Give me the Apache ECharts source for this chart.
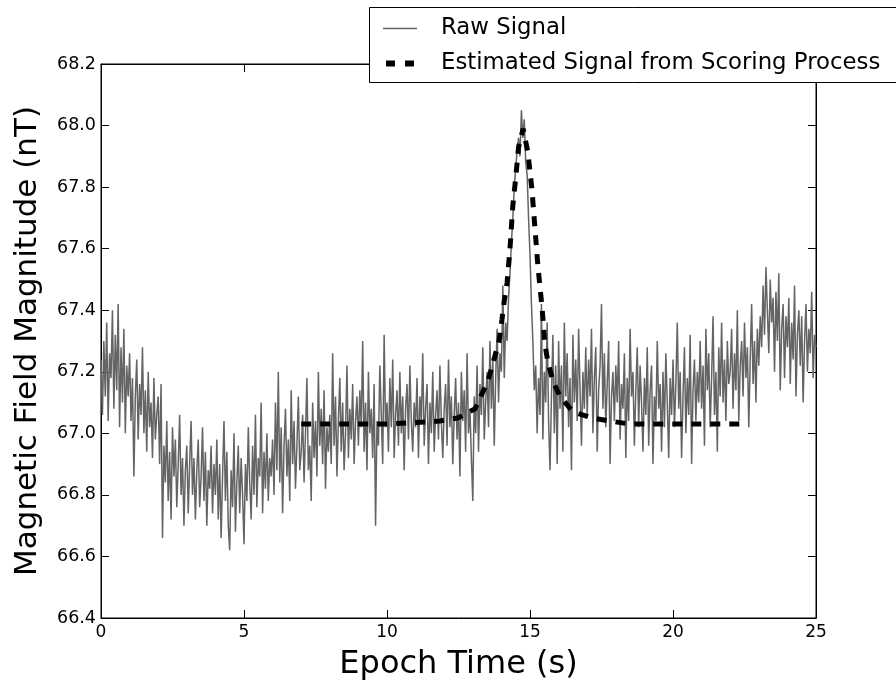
<!DOCTYPE html>
<html>
<head>
<meta charset="utf-8">
<script src="https://cdn.jsdelivr.net/npm/echarts@6/dist/echarts.min.js"></script>
<style>
  html, body { margin: 0; padding: 0; background: #fff; }
  #chart { width: 896px; height: 688px; }
</style>
</head>
<body>
<div id="chart"></div>
<script>
const rawStart = 0;
const rawStep = 0.05;
const rawSignal = [
  67.24, 67.06, 67.30, 67.12, 67.36, 67.04, 67.26, 67.18, 67.40, 67.08, 67.32, 67.14, 67.42, 67.02, 67.28, 67.10, 67.34, 67.00, 67.22, 67.12,
  67.26, 67.04, 67.18, 66.86, 67.12, 67.24, 66.98, 67.16, 67.06, 67.28, 67.00, 67.14, 66.94, 67.20, 67.02, 67.10, 66.92, 67.18, 66.98, 67.06,
  67.12, 66.90, 67.16, 66.66, 66.96, 66.84, 67.04, 66.78, 66.94, 66.72, 67.02, 66.86, 66.98, 66.76, 66.90, 67.06, 66.80, 66.92, 66.70, 66.88,
  66.96, 66.74, 66.90, 67.04, 66.80, 66.92, 66.72, 66.88, 66.98, 66.76, 66.86, 67.02, 66.78, 66.94, 66.70, 66.88, 66.82, 66.96, 66.74, 66.90,
  66.80, 66.98, 66.72, 66.90, 66.66, 66.86, 67.04, 66.78, 66.94, 66.70, 66.62, 66.88, 66.76, 67.00, 66.68, 66.84, 66.96, 66.74, 66.92, 66.80,
  66.64, 66.90, 66.78, 67.02, 66.84, 66.72, 66.96, 66.80, 67.06, 66.76, 66.92, 66.86, 67.10, 66.74, 66.94, 66.82, 67.00, 66.78, 66.92, 66.86,
  66.98, 66.80, 67.10, 66.88, 67.20, 66.84, 67.02, 66.74, 66.96, 67.08, 66.86, 66.98, 66.78, 67.14, 66.90, 67.04, 66.82, 66.96, 67.12, 66.88,
  66.94, 67.06, 66.84, 67.00, 67.18, 66.88, 66.96, 66.78, 67.10, 66.92, 67.04, 66.86, 67.20, 66.96, 67.08, 66.90, 67.14, 66.82, 67.02, 66.94,
  67.06, 66.90, 67.26, 66.96, 67.12, 66.86, 67.04, 67.18, 66.94, 67.10, 66.88, 67.00, 67.22, 66.92, 67.08, 66.98, 67.16, 66.90, 67.04, 67.12,
  66.96, 67.14, 67.02, 67.30, 66.94, 67.10, 66.88, 67.20, 67.00, 67.08, 66.92, 67.16, 66.70, 67.04, 66.96, 67.22, 67.06, 66.90, 67.32, 67.02,
  67.10, 66.94, 67.18, 67.02, 67.24, 66.92, 67.06, 67.14, 66.96, 67.20, 67.00, 67.12, 66.88, 67.08, 67.16, 66.98, 67.22, 67.04, 66.94, 67.10,
  67.02, 67.18, 66.92, 67.12, 67.04, 67.26, 66.96, 67.08, 67.16, 66.90, 67.10, 67.00, 67.20, 66.94, 67.06, 67.14, 66.98, 67.22, 67.04, 66.92,
  67.08, 67.16, 66.96, 67.24, 67.02, 67.12, 66.90, 67.06, 67.18, 66.98, 67.10, 66.86, 67.20, 67.04, 67.14, 66.94, 67.26, 67.00, 67.08, 66.92,
  66.78, 67.12, 67.00, 67.22, 66.94, 67.16, 67.06, 67.28, 66.98, 67.10, 67.20, 67.02, 67.30, 67.08, 67.24, 66.96, 67.18, 67.34, 67.10, 67.26,
  67.20, 67.48, 67.18, 67.36, 67.30, 67.44, 67.52, 67.62, 67.70, 67.80, 67.86, 67.92, 67.96, 67.90, 68.05, 67.96, 68.02, 67.88, 67.84, 67.70,
  67.58, 67.42, 67.30, 67.14, 67.22, 67.00, 67.18, 67.06, 67.42, 66.98, 67.20, 67.10, 67.36, 67.04, 66.88, 67.12, 67.32, 67.00, 67.22, 66.90,
  67.30, 67.08, 67.22, 66.94, 67.36, 67.12, 67.26, 67.02, 67.18, 66.88, 67.32, 67.10, 67.24, 67.04, 67.34, 67.14, 66.96, 67.20, 67.08, 67.28,
  67.06, 67.24, 67.12, 67.34, 67.00, 67.18, 67.28, 66.94, 67.14, 67.22, 67.42, 67.08, 67.26, 67.02, 67.16, 67.30, 66.90, 67.12, 67.20, 67.04,
  67.22, 67.10, 67.30, 66.98, 67.16, 67.08, 67.26, 66.92, 67.18, 67.04, 67.34, 67.12, 67.20, 66.96, 67.14, 67.28, 67.02, 67.22, 67.10, 66.94,
  67.18, 67.06, 67.28, 66.96, 67.14, 67.22, 66.90, 67.12, 67.04, 67.30, 67.08, 67.16, 66.94, 67.20, 67.02, 67.26, 67.10, 66.92, 67.18, 67.06,
  67.24, 67.02, 67.16, 67.36, 67.08, 67.20, 66.92, 67.12, 67.28, 67.00, 67.18, 67.06, 67.32, 66.90, 67.14, 67.24, 67.04, 67.20, 67.10, 67.30,
  67.08, 67.22, 66.96, 67.34, 67.14, 67.26, 67.02, 67.18, 67.38, 67.06, 67.20, 66.94, 67.28, 67.12, 67.36, 67.10, 67.24, 67.04, 67.30, 67.16,
  67.20, 67.34, 67.08, 67.26, 67.14, 67.40, 67.04, 67.22, 67.30, 67.12, 67.36, 67.18, 67.28, 67.02, 67.24, 67.42, 67.16, 67.30, 67.10, 67.34,
  67.22, 67.38, 67.28, 67.48, 67.32, 67.54, 67.40, 67.26, 67.50, 67.36, 67.44, 67.20, 67.46, 67.30, 67.52, 67.14, 67.34, 67.42, 67.18, 67.38,
  67.28, 67.44, 67.16, 67.36, 67.24, 67.48, 67.12, 67.32, 67.40, 67.22, 67.38, 67.10, 67.30, 67.42, 67.20, 67.34, 67.26, 67.46, 67.18, 67.32,
  67.28
];

// estimated signal from scoring process
const estTime = [7.0, 8.0, 9.0, 10.0, 11.0, 11.85, 12.48, 13.08, 13.53, 13.74, 13.92, 14.02,
  14.1, 14.2, 14.3, 14.4, 14.5, 14.6, 14.76, 14.93, 15.07, 15.17, 15.28, 15.42, 15.52,
  15.63, 15.8, 16.05, 16.5, 17.17, 17.8, 18.5, 19.5, 20.5, 21.5, 22.55];
const estValue = [67.03, 67.03, 67.03, 67.03, 67.035, 67.04, 67.05, 67.08, 67.17, 67.24, 67.30, 67.37,
  67.43, 67.49, 67.60, 67.74, 67.83, 67.93, 67.99, 67.91, 67.79, 67.67, 67.54, 67.41, 67.29,
  67.23, 67.17, 67.12, 67.07, 67.05, 67.04, 67.03, 67.03, 67.03, 67.03, 67.03];

const xTicks = [0, 25, 5];        // min, max, interval
const yTicks = [66.4, 68.2, 0.2];

const seriesNames = ['Raw Signal', 'Estimated Signal from Scoring Process'];

const rawData = rawSignal.map((v, i) => [rawStart + i * rawStep, v]);
const estData = estTime.map((t, i) => [t, estValue[i]]);

const font = 'DejaVu Sans';
const chart = echarts.init(document.getElementById('chart'));

const baseX = {
  type: 'value', min: xTicks[0], max: xTicks[1], interval: xTicks[2],
  axisLine: { show: true, onZero: false, lineStyle: { color: '#000', width: 1 } },
  axisTick: { show: true, inside: true, length: 8, lineStyle: { color: '#000' } },
  splitLine: { show: false }
};
const baseY = {
  type: 'value', min: yTicks[0], max: yTicks[1], interval: yTicks[2],
  axisLine: { show: true, onZero: false, lineStyle: { color: '#000', width: 1 } },
  axisTick: { show: true, inside: true, length: 8, lineStyle: { color: '#000' } },
  splitLine: { show: false }
};

chart.setOption({
  animation: false,
  backgroundColor: '#fff',
  grid: { left: 101, right: 80, top: 64, bottom: 70, show: true, borderColor: '#000', borderWidth: 1 },
  xAxis: [
    Object.assign({}, baseX, {
      position: 'bottom',
      name: 'Epoch Time (s)', nameLocation: 'middle', nameGap: 31,
      nameTextStyle: { fontFamily: font, fontSize: 32, color: '#000' },
      axisLabel: { fontFamily: font, fontSize: 17, color: '#000', margin: 6 }
    }),
    Object.assign({}, baseX, { position: 'top', axisLabel: { show: false } })
  ],
  yAxis: [
    Object.assign({}, baseY, {
      position: 'left',
      name: 'Magnetic Field Magnitude (nT)', nameLocation: 'middle', nameGap: 58,
      nameTextStyle: { fontFamily: font, fontSize: 31, color: '#000' },
      axisLabel: { fontFamily: font, fontSize: 17.5, color: '#000', margin: 5, formatter: v => v.toFixed(1) }
    }),
    Object.assign({}, baseY, { position: 'right', axisLabel: { show: false } })
  ],
  legend: {
    z: 200,
    orient: 'vertical',
    left: 383, top: 17, padding: 0,
    itemWidth: 34, itemHeight: 14, itemGap: 12,
    textStyle: { fontFamily: font, fontSize: 22.8, color: '#000', padding: [0, 0, 0, 19] },
    data: [
      { name: seriesNames[0], icon: 'path://M0,0h34v1.4h-34z' },
      // zero-width stroke on the left keeps the two dashes at their own size
      { name: seriesNames[1], icon: 'path://M0,0L0,14L0,0zM0,4h9v6h-9zM19,4h9v6h-9z' }
    ]
  },
  graphic: [{
    type: 'rect', z: 100,
    shape: { x: 369.5, y: 7.5, width: 540, height: 75 },
    style: { fill: '#fff', stroke: '#000', lineWidth: 1 }
  }],
  series: [
    {
      name: seriesNames[0], type: 'line', data: rawData,
      symbol: 'none', z: 2,
      lineStyle: { color: '#646464', width: 1.5 },
      itemStyle: { color: '#646464' }
    },
    {
      name: seriesNames[1], type: 'line', data: estData,
      symbol: 'none', z: 3,
      lineStyle: { color: '#000', width: 5, type: [10, 9], cap: 'butt' },
      itemStyle: { color: '#000' }
    }
  ]
});
</script>
</body>
</html>
